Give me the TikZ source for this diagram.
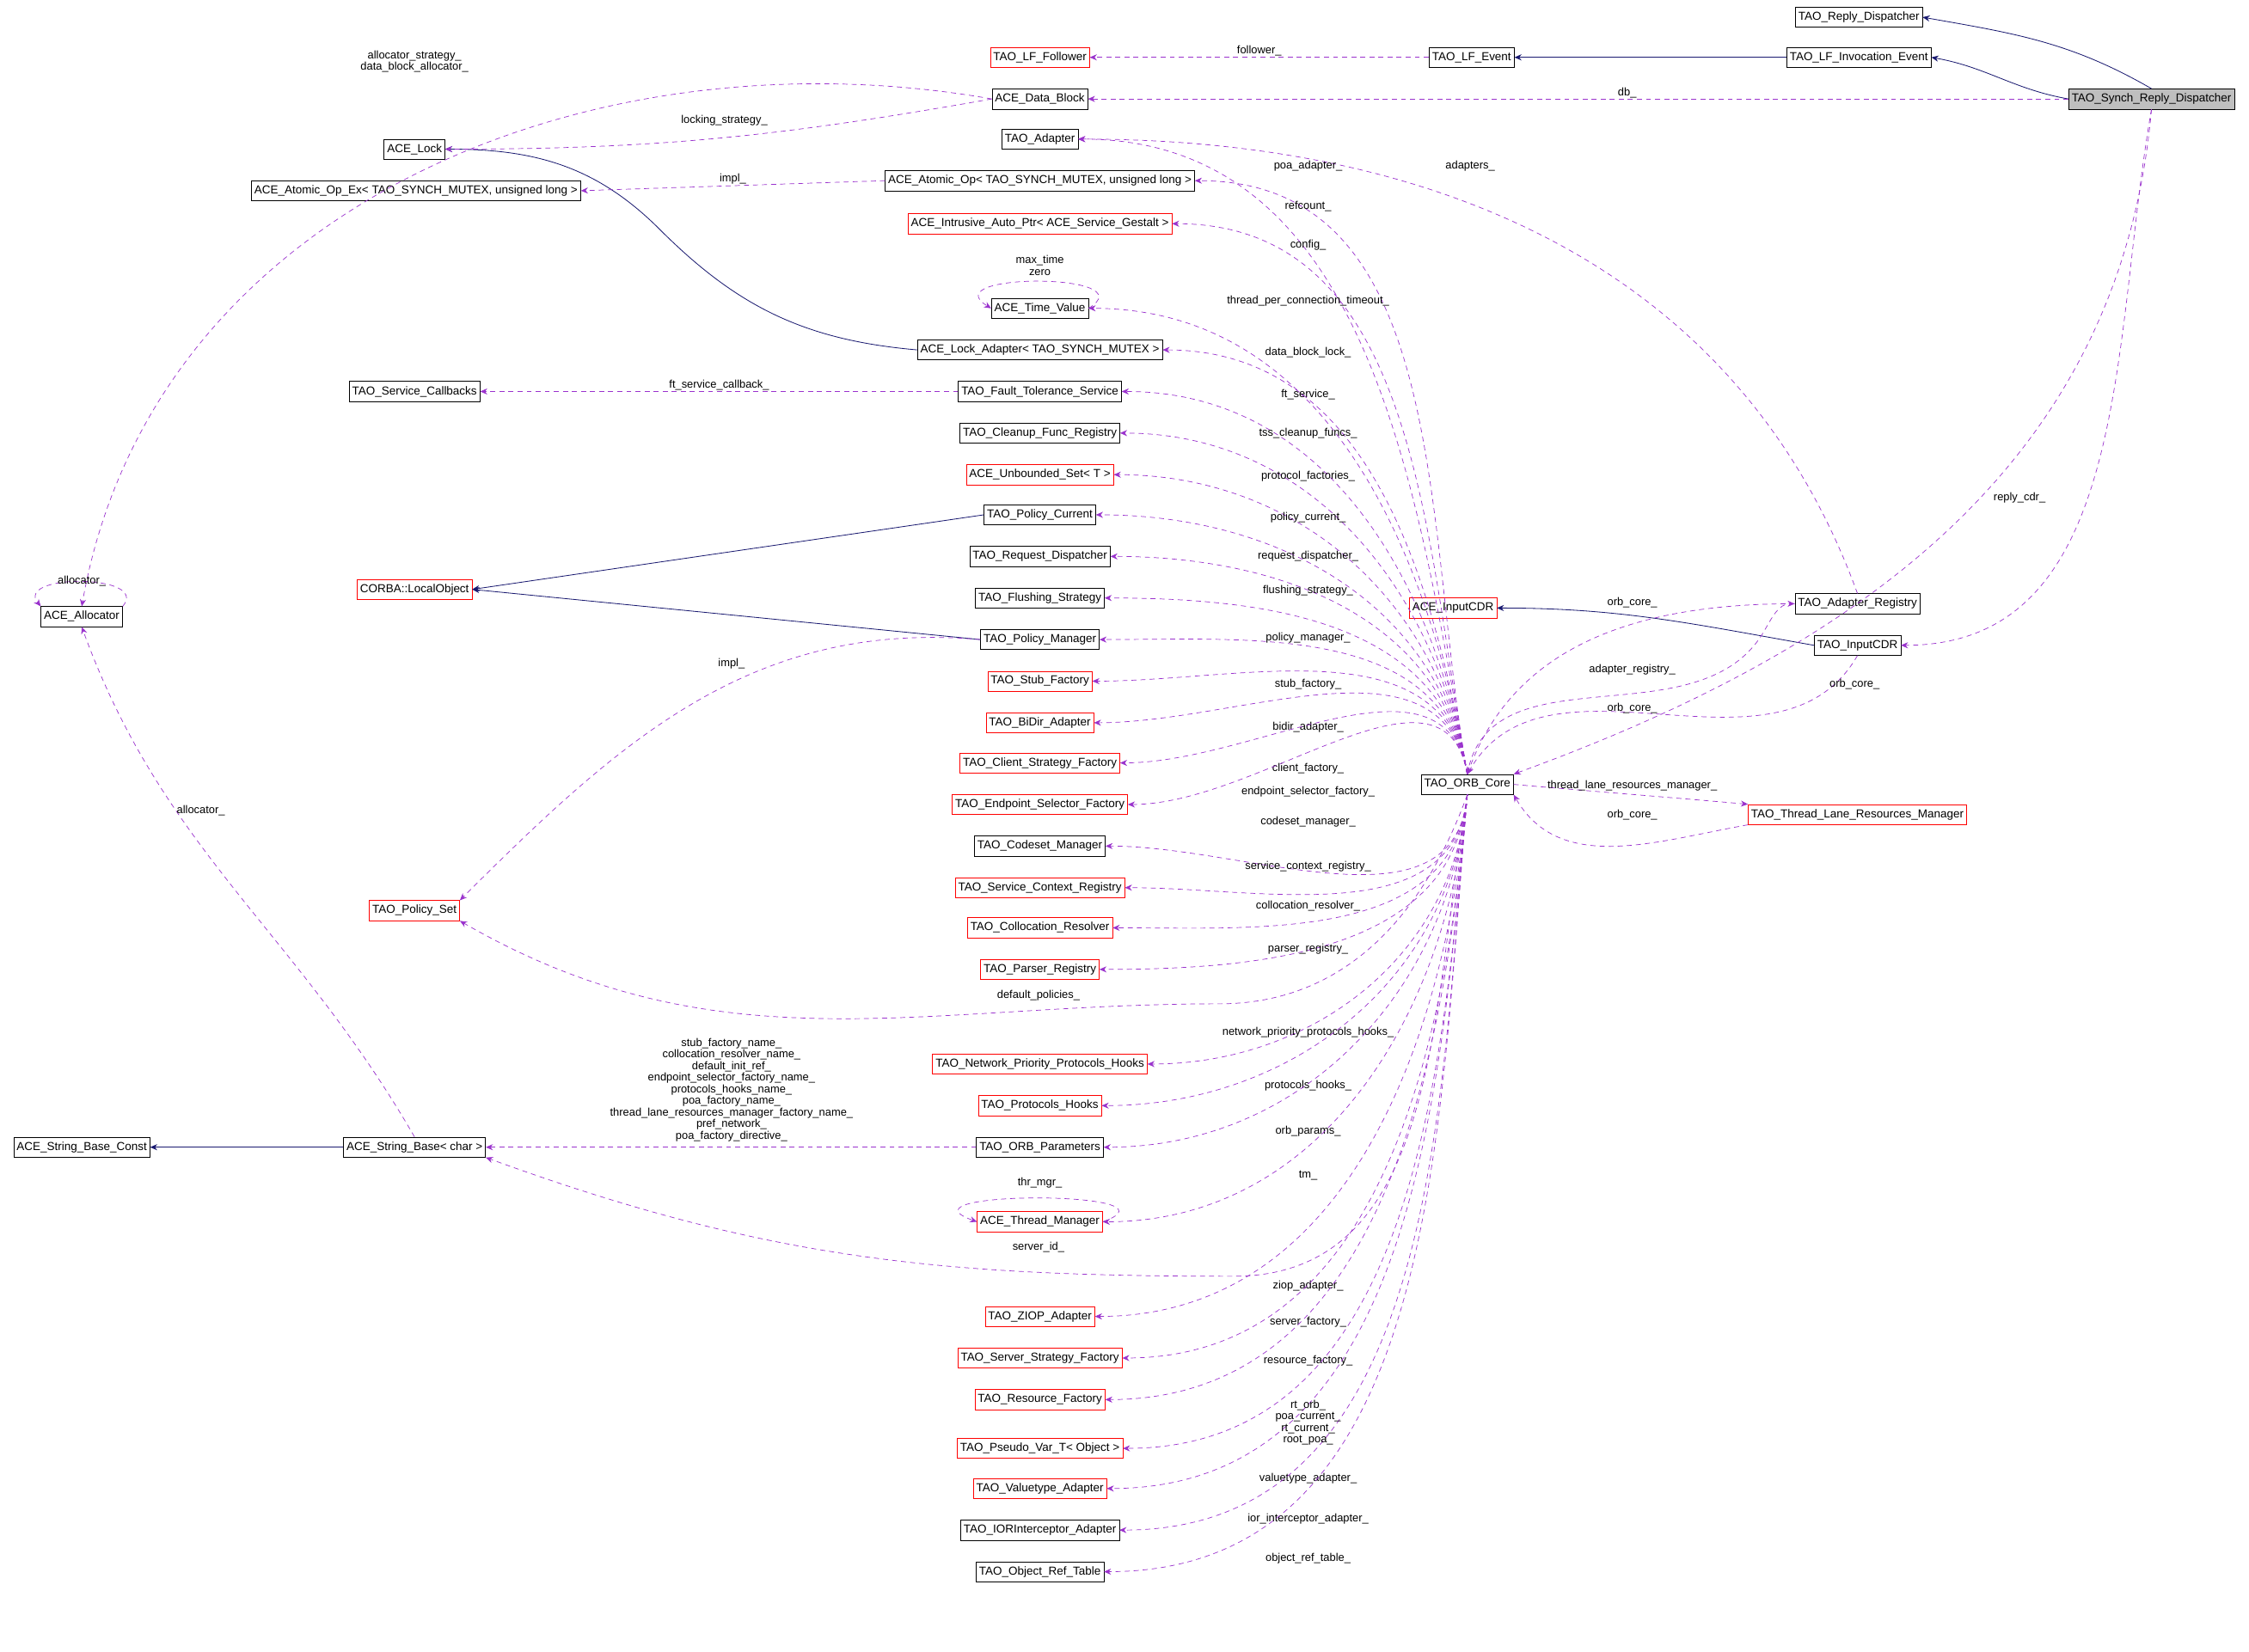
\documentclass[tikz,border=0pt]{standalone}
\usepackage{fontspec}
\setmainfont{Liberation Sans}
\usetikzlibrary{arrows.meta}
\definecolor{usec}{HTML}{9A32CD}
\definecolor{inhc}{HTML}{191970}
\tikzset{
 box/.style={draw=black,fill=white,font=\fontsize{11.5}{12}\selectfont,inner sep=3pt,minimum height=7mm,line width=0.5pt},
 rbox/.style={box,draw=red},
 use/.style={draw=usec,dashed,dash pattern=on 5pt off 4pt,line width=0.6pt,-{Stealth[length=7pt,width=6pt]}},
 inh/.style={draw=inhc,line width=0.7pt,-{Stealth[length=7pt,width=6pt]}},
 lbl/.style={font=\fontsize{11}{11.5}\selectfont,inner sep=0pt,align=center}
}
\begin{document}
\begin{tikzpicture}[x=0.5mm,y=-0.5mm]
\useasboundingbox[fill=white] (0,0) rectangle (1568,1152);
% nodes
\node[box] (rd) at (1296,12) {TAO\_Reply\_Dispatcher};
\node[box] (lfie) at (1296,40) {TAO\_LF\_Invocation\_Event};
\node[box,fill=gray!50] (synch) at (1500,69) {TAO\_Synch\_Reply\_Dispatcher};
\node[box] (lfe) at (1026,40) {TAO\_LF\_Event};
\node[rbox] (lff) at (725,40) {TAO\_LF\_Follower};
\node[box] (db) at (725,69) {ACE\_Data\_Block};
\node[box] (tad) at (725,97) {TAO\_Adapter};
\node[box] (lock) at (289,104) {ACE\_Lock};
\node[box] (aopex) at (290,133) {ACE\_Atomic\_Op\_Ex< TAO\_SYNCH\_MUTEX, unsigned long >};
\node[box] (aop) at (725,126) {ACE\_Atomic\_Op< TAO\_SYNCH\_MUTEX, unsigned long >};
\node[rbox] (intr) at (725,156) {ACE\_Intrusive\_Auto\_Ptr< ACE\_Service\_Gestalt >};
\node[box] (tv) at (725,215) {ACE\_Time\_Value};
\node[box] (lockad) at (725,244) {ACE\_Lock\_Adapter< TAO\_SYNCH\_MUTEX >};
\node[box] (scb) at (289,273) {TAO\_Service\_Callbacks};
\node[box] (ft) at (725,273) {TAO\_Fault\_Tolerance\_Service};
\node[box] (cln) at (725,302) {TAO\_Cleanup\_Func\_Registry};
\node[rbox] (unb) at (725,331) {ACE\_Unbounded\_Set< T >};
\node[box] (pcur) at (725,359) {TAO\_Policy\_Current};
\node[rbox] (lobj) at (289,411) {CORBA::LocalObject};
\node[box] (reqd) at (725,388) {TAO\_Request\_Dispatcher};
\node[box] (flush) at (725,417) {TAO\_Flushing\_Strategy};
\node[box] (pman) at (725,446) {TAO\_Policy\_Manager};
\node[rbox] (stub) at (725,475) {TAO\_Stub\_Factory};
\node[rbox] (bidir) at (725,504) {TAO\_BiDir\_Adapter};
\node[rbox] (csf) at (725,532) {TAO\_Client\_Strategy\_Factory};
\node[rbox] (esf) at (725,561) {TAO\_Endpoint\_Selector\_Factory};
\node[box] (csm) at (725,590) {TAO\_Codeset\_Manager};
\node[rbox] (scr) at (725,619) {TAO\_Service\_Context\_Registry};
\node[rbox] (colr) at (725,647) {TAO\_Collocation\_Resolver};
\node[rbox] (preg) at (725,676) {TAO\_Parser\_Registry};
\node[rbox] (nph) at (725,742) {TAO\_Network\_Priority\_Protocols\_Hooks};
\node[rbox] (ph) at (725,771) {TAO\_Protocols\_Hooks};
\node[box] (orbp) at (725,800) {TAO\_ORB\_Parameters};
\node[rbox] (thrm) at (725,852) {ACE\_Thread\_Manager};
\node[rbox] (ziop) at (725,918) {TAO\_ZIOP\_Adapter};
\node[rbox] (ssf) at (725,947) {TAO\_Server\_Strategy\_Factory};
\node[rbox] (rf) at (725,976) {TAO\_Resource\_Factory};
\node[rbox] (pv) at (725,1010) {TAO\_Pseudo\_Var\_T< Object >};
\node[rbox] (vt) at (725,1038) {TAO\_Valuetype\_Adapter};
\node[box] (ior) at (725,1067) {TAO\_IORInterceptor\_Adapter};
\node[box] (ort) at (725,1096) {TAO\_Object\_Ref\_Table};
\node[rbox] (pset) at (289,635) {TAO\_Policy\_Set};
\node[box] (alloc) at (57,430) {ACE\_Allocator};
\node[box] (sbc) at (57,800) {ACE\_String\_Base\_Const};
\node[box] (sb) at (289,800) {ACE\_String\_Base< char >};
\node[box] (orb) at (1023,547) {TAO\_ORB\_Core};
\node[rbox] (icdr) at (1013,424) {ACE\_InputCDR};
\node[box] (areg) at (1295,421) {TAO\_Adapter\_Registry};
\node[box] (tcdr) at (1295,450) {TAO\_InputCDR};
\node[rbox] (tlr) at (1295,568) {TAO\_Thread\_Lane\_Resources\_Manager};
% inheritance
\draw[inh] (lfie) -- (lfe);
\draw[inh] (synch.north) to[out=150,in=-10] (rd.east);
\draw[inh] (synch.west) to[out=170,in=-10] (lfie.east);
\draw[inh] (lockad.west) to[out=175,in=-45] (460,160) to[out=135,in=0] (lock.east);
\draw[inh] (pcur.west) -- (lobj.east);
\draw[inh] (pman.west) -- (lobj.east);
\draw[inh] (sb) -- (sbc);
\draw[inh] (tcdr.west) to[out=170,in=0] (icdr.east);
% usage
\draw[use] (synch.west) -- node[lbl,above=1pt,pos=0.45]{db\_} (db.east);
\draw[use] (lfe.west) -- node[lbl,above=1pt]{follower\_} (lff.east);
\draw[use] (db.west) to[out=170,in=80] (alloc.north);
\node[lbl] at (289,43) {allocator\_strategy\_\\data\_block\_allocator\_};
\draw[use] (db.west) to[out=190,in=0] (lock.east);
\node[lbl] at (505,84) {locking\_strategy\_};
\draw[use] (aop.west) -- node[lbl,above=1pt]{impl\_} (aopex.east);
\draw[use] (tv.east) .. controls (800,190) and (650,190) .. (tv.west);
\node[lbl] at (725,185) {max\_time\\zero};
\draw[use] (alloc.north east) .. controls (105,400) and (10,400) .. (alloc.north west);
\node[lbl] at (57,405) {allocator\_};
\draw[use] (ft.west) -- node[lbl,above=1pt]{ft\_service\_callback\_} (scb.east);
\draw[use] (pman.west) to[out=175,in=45] (pset.north east);
\node[lbl] at (510,463) {impl\_};
\draw[use] (sb.north) to[out=120,in=-70] (alloc.south);
\node[lbl] at (140,565) {allocator\_};
\draw[use] (orbp.west) -- (sb.east);
\node[lbl] at (510,760) {stub\_factory\_name\_\\collocation\_resolver\_name\_\\default\_init\_ref\_\\endpoint\_selector\_factory\_name\_\\protocols\_hooks\_name\_\\poa\_factory\_name\_\\thread\_lane\_resources\_manager\_factory\_name\_\\pref\_network\_\\poa\_factory\_directive\_};
\draw[use] (thrm.east) .. controls (830,830) and (620,830) .. (thrm.west);
\node[lbl] at (725,825) {thr\_mgr\_};
\draw[use] (orb.south) to[out=-100,in=0] (860,890) to[out=180,in=-20] (sb.south east);
\node[lbl] at (724,870) {server\_id\_};
\draw[use] (orb.south) to[out=-110,in=0] (850,700) to[out=180,in=-30] (pset.south east);
\node[lbl] at (724,694) {default\_policies\_};
\draw[use] (areg.north) to[out=110,in=0] (tad.east);
\node[lbl] at (1025,116) {adapters\_};
\draw[use] (areg.west) to[out=180,in=70] (orb.north);
\node[lbl] at (1138,420) {orb\_core\_};
\draw[use] (orb.north) to[out=80,in=240] (1230,440) to[out=60,in=180] (areg.west);
\node[lbl] at (1138,467) {adapter\_registry\_};
\draw[use] (tcdr.south) to[out=-120,in=60] (orb.north);
\node[lbl] at (1138,494) {orb\_core\_};
\draw[use] (synch.south) to[out=-100,in=0] (tcdr.east);
\node[lbl] at (1408,347) {reply\_cdr\_};
\draw[use] (synch.south) to[out=-95,in=20] (orb.north east);
\node[lbl] at (1293,477) {orb\_core\_};
\draw[use] (orb.east) to[out=-5,in=175] (tlr.north west);
\node[lbl] at (1138,548) {thread\_lane\_resources\_manager\_};
\draw[use] (tlr.south west) to[out=190,in=-60] (orb.south east);
\node[lbl] at (1138,568) {orb\_core\_};
\foreach \t/\l/\ly in {tad/poa\_adapter\_/116, aop/refcount\_/144, intr/config\_/171, tv/thread\_per\_connection\_timeout\_/210, lockad/data\_block\_lock\_/246, ft/ft\_service\_/275, cln/tss\_cleanup\_funcs\_/302, unb/protocol\_factories\_/332, pcur/policy\_current\_/361, reqd/request\_dispatcher\_/388, flush/flushing\_strategy\_/412, pman/policy\_manager\_/445, stub/stub\_factory\_/477, bidir/bidir\_adapter\_/507, csf/client\_factory\_/536, esf/endpoint\_selector\_factory\_/552}{
 \draw[use] (orb.north) to[out=100,in=0] (\t.east);
 \node[lbl] at (912,\ly) {\l};
}
\foreach \t/\l/\ly in {csm/codeset\_manager\_/573, scr/service\_context\_registry\_/604, colr/collocation\_resolver\_/632, preg/parser\_registry\_/662, nph/network\_priority\_protocols\_hooks\_/720, ph/protocols\_hooks\_/757, orbp/orb\_params\_/789, thrm/tm\_/820, ziop/ziop\_adapter\_/897, ssf/server\_factory\_/922, rf/resource\_factory\_/949, vt/valuetype\_adapter\_/1031, ior/ior\_interceptor\_adapter\_/1059, ort/object\_ref\_table\_/1087}{
 \draw[use] (orb.south) to[out=-95,in=0] (\t.east);
 \node[lbl] at (912,\ly) {\l};
}
\draw[use] (orb.south) to[out=-95,in=0] (pv.east);
\node[lbl] at (912,992) {rt\_orb\_\\poa\_current\_\\rt\_current\_\\root\_poa\_};
\end{tikzpicture}
\end{document}
